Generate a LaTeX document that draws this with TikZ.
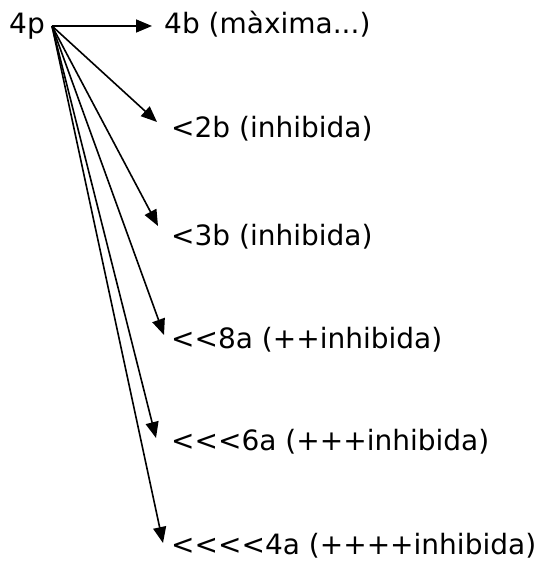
\documentclass[tikz,border=0pt]{standalone}
\usepackage{fontspec}
\setmainfont{DejaVu Sans}
\usetikzlibrary{calc, arrows.meta, positioning}

\begin{document}
\begin{tikzpicture}[x=1pt,y=-1pt, every node/.style={font=\fontsize{28}{33}\selectfont, inner sep=0pt},
    pil/.style={-{Triangle[length=16pt,width=13pt]}, line width=1.6pt}]
    \useasboundingbox (0,0) rectangle (538,564);
    \node[anchor=base west] (p4) at (9,34) {4p};
    \coordinate (src) at (52,26);
    \node[anchor=base west] (b4) at (164,34) {4b (màxima...)};
    \node[anchor=base west] (b2) at (171,138) {<2b (inhibida)};
    \node[anchor=base west] (b3) at (171,245) {<3b (inhibida)};
    \node[anchor=base west] (a8) at (171,348) {<{}<8a (++inhibida)};
    \node[anchor=base west] (a6) at (171,450) {<{}<{}<6a (+++inhibida)};
    \node[anchor=base west] (a4) at (171,554) {<{}<{}<{}<4a (++++inhibida)};
    \draw[pil] (src) -- ($(b4.base west)+(-12,-8)$);
    \draw[pil] (src) -- ($(b2.base west)+(-14,-16)$);
    \draw[pil] (src) -- ($(b3.base west)+(-13,-19)$);
    \draw[pil] (src) -- ($(a8.base west)+(-7,-13)$);
    \draw[pil] (src) -- ($(a6.base west)+(-15,-12)$);
    \draw[pil] (src) -- ($(a4.base west)+(-8,-11)$);
\end{tikzpicture}
\end{document}
